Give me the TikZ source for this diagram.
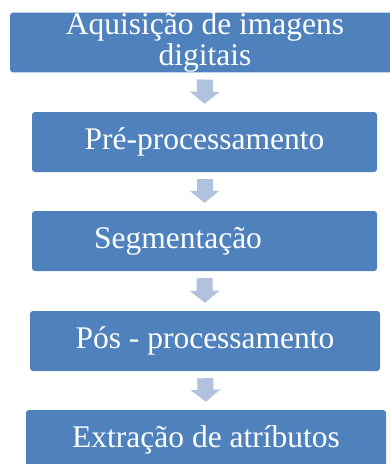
\documentclass[tikz,border=0pt]{standalone}
\usepackage{fontspec}
\setmainfont{Liberation Serif}
\usetikzlibrary{arrows.meta}
\definecolor{boxblue}{HTML}{4F81BD}
\definecolor{arrowblue}{HTML}{B1C2DF}
\begin{document}
\begin{tikzpicture}[x=1pt, y=-1pt,
    stage/.style={fill=boxblue, rounded corners=3pt, text=white, align=center,
        inner xsep=0pt, inner ysep=0pt, minimum height=60pt,
        font=\fontsize{31.5}{31}\selectfont},
    flow/.style={draw=arrowblue, line width=16pt,
        -{Triangle[width=29pt, length=12pt]},
        shorten <=7pt, shorten >=8pt}]
    \clip (0,0) rectangle (390,464);

    \node[stage, minimum width=390pt, minimum height=59pt] (aquis) at (205, 42.5) {Aquisição de imagens\\digitais};
    \node[stage, minimum width=345pt] (prep) at (204.5, 142) {Pré-processamento};
    \node[stage, minimum width=345pt] (segm) at (204.5, 241) {Segmentação\hspace*{53pt}};
    \node[stage, minimum width=350pt] (posp) at (205, 341) {Pós - processamento};
    \node[stage, minimum width=360pt] (extr) at (206, 440) {Extração de atríbutos};

    \draw[flow] (aquis.south) -- (prep.north);
    \draw[flow] (prep.south) -- (segm.north);
    \draw[flow] (segm.south) -- (posp.north);
    \draw[flow] (posp.south) -- (extr.north);
\end{tikzpicture}
\end{document}
